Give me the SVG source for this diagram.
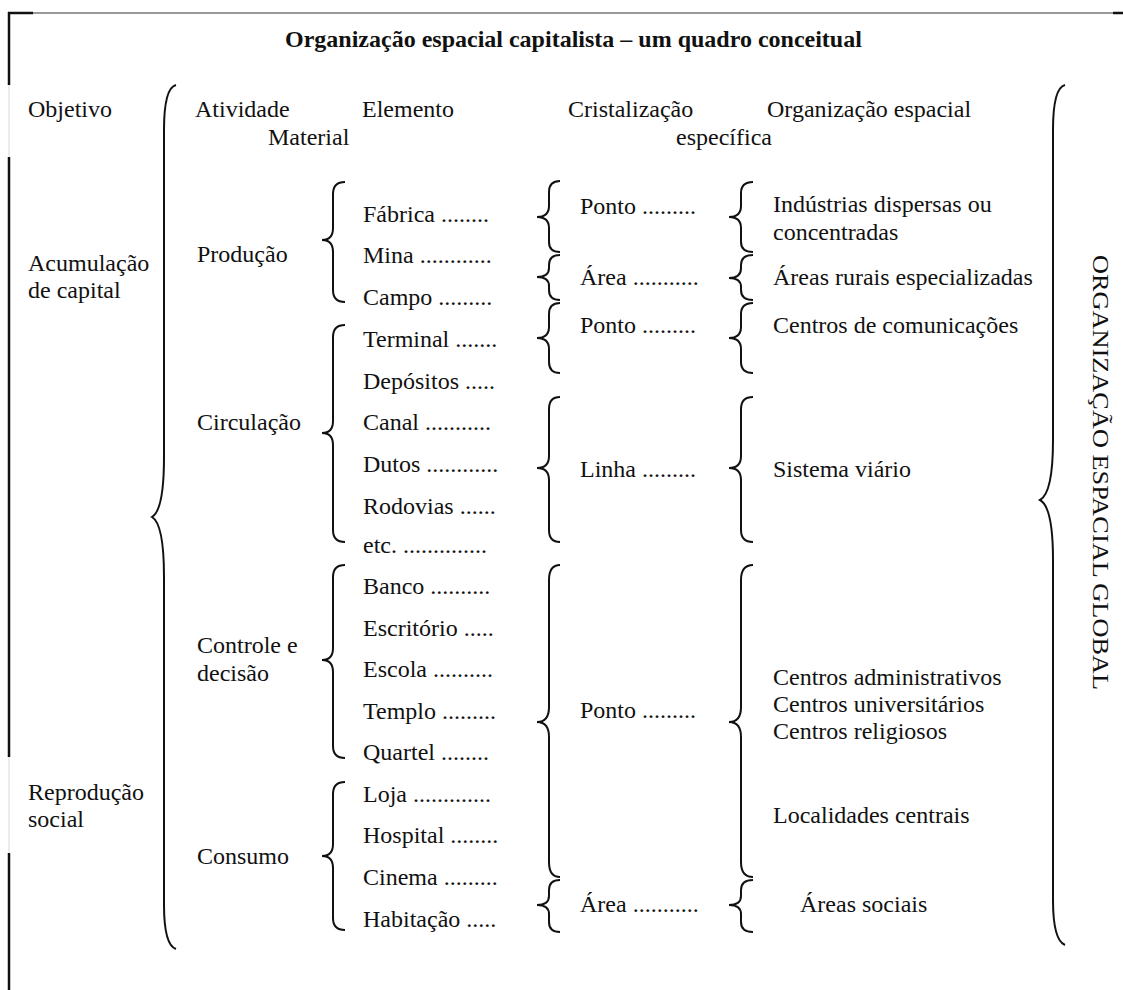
<svg xmlns="http://www.w3.org/2000/svg" width="1123" height="990" viewBox="0 0 1123 990">
<style>
text{font-family:"Liberation Serif","Times New Roman",serif;font-size:24px;fill:#111}
.title{font-weight:bold}
.br{fill:none;stroke:#111;stroke-width:2}
.frame{stroke:#111;stroke-width:2.5}
.frame-light{stroke:#e6e6e6;stroke-width:1.5}
</style>
<rect width="1123" height="990" fill="#fff"/>
<g id="frame">
<line x1="8" y1="13" x2="1113" y2="13" stroke="#777" stroke-width="1.5"/>
<line class="frame" x1="8" y1="13" x2="33" y2="13"/>
<line class="frame" x1="1113" y1="13" x2="1123" y2="13"/>
<line class="frame" x1="9" y1="12" x2="9" y2="85"/>
<line class="frame-light" x1="9" y1="85" x2="9" y2="157"/>
<line class="frame" x1="9" y1="157" x2="9" y2="757"/>
<line class="frame-light" x1="9" y1="757" x2="9" y2="853"/>
<line class="frame" x1="9" y1="853" x2="9" y2="990"/>
</g>
<g id="title"><text class="title" x="285" y="47">Organização espacial capitalista – um quadro conceitual</text></g>
<g id="headers">
<text x="28" y="117">Objetivo</text>
<text x="195" y="117">Atividade</text>
<text x="362" y="117">Elemento</text>
<text x="268" y="145">Material</text>
<text x="568" y="117">Cristalização</text>
<text x="676" y="145">específica</text>
<text x="767" y="117">Organização espacial</text>
</g>
<g id="objetivos">
<text x="28" y="271">Acumulação</text>
<text x="28" y="298">de capital</text>
<text x="28" y="800">Reprodução</text>
<text x="28" y="827">social</text>
</g>
<g id="atividades">
<text x="197" y="262">Produção</text>
<text x="197" y="430">Circulação</text>
<text x="197" y="653">Controle e</text>
<text x="197" y="681">decisão</text>
<text x="197" y="864">Consumo</text>
</g>
<g id="elementos">
<text x="363" y="222">Fábrica ........</text>
<text x="363" y="263">Mina ............</text>
<text x="363" y="305">Campo .........</text>
<text x="363" y="347">Terminal .......</text>
<text x="363" y="389">Depósitos .....</text>
<text x="363" y="430">Canal ...........</text>
<text x="363" y="472">Dutos ............</text>
<text x="363" y="514">Rodovias ......</text>
<text x="363" y="553">etc. ..............</text>
<text x="363" y="594">Banco ..........</text>
<text x="363" y="636">Escritório .....</text>
<text x="363" y="677">Escola ..........</text>
<text x="363" y="719">Templo .........</text>
<text x="363" y="760">Quartel ........</text>
<text x="363" y="802">Loja .............</text>
<text x="363" y="843">Hospital ........</text>
<text x="363" y="885">Cinema .........</text>
<text x="363" y="927">Habitação .....</text>
</g>
<g id="cristalizacao">
<text x="580" y="214">Ponto .........</text>
<text x="580" y="285">Área ...........</text>
<text x="580" y="333">Ponto .........</text>
<text x="580" y="477">Linha .........</text>
<text x="580" y="718">Ponto .........</text>
<text x="580" y="912">Área ...........</text>
</g>
<g id="organizacao">
<text x="773" y="212">Indústrias dispersas ou</text>
<text x="773" y="240">concentradas</text>
<text x="773" y="285">Áreas rurais especializadas</text>
<text x="773" y="333">Centros de comunicações</text>
<text x="773" y="477">Sistema viário</text>
<text x="773" y="685">Centros administrativos</text>
<text x="773" y="712">Centros universitários</text>
<text x="773" y="739">Centros religiosos</text>
<text x="773" y="823">Localidades centrais</text>
<text x="800" y="912">Áreas sociais</text>
</g>
<g id="global">
<text transform="translate(1093,255) rotate(90)" textLength="435" lengthAdjust="spacingAndGlyphs">ORGANIZAÇÃO ESPACIAL GLOBAL</text>
</g>
<g id="braces">
<path class="br" d="M176 85 Q164 88 164 130 V457 Q164 510 152 517 Q164 524 164 577 V905 Q164 945 176 949"/>
<path class="br" d="M1065 85 Q1053 88 1053 130 V440 Q1053 493 1040 500 Q1053 507 1053 560 V900 Q1053 940 1065 945"/>
<path class="br" d="M345 182 Q333 182 333 194 V228 Q333 240 322 240 Q333 240 333 252 V290 Q333 302 345 302"/>
<path class="br" d="M345 325 Q333 325 333 337 V421 Q333 433 322 433 Q333 433 333 445 V530 Q333 542 345 542"/>
<path class="br" d="M345 565 Q333 565 333 577 V648 Q333 660 322 660 Q333 660 333 672 V746 Q333 758 345 758"/>
<path class="br" d="M345 782 Q333 782 333 794 V844 Q333 856 322 856 Q333 856 333 868 V918 Q333 930 345 930"/>
<path class="br" d="M560 181 Q549 181 549 192 V206 Q549 217 537 217 Q549 217 549 228 V242 Q549 252 560 252"/>
<path class="br" d="M560 255 Q549 255 549 265 V268 Q549 277 537 277 Q549 277 549 286 V290 Q549 300 560 300"/>
<path class="br" d="M560 303 Q549 303 549 314 V327 Q549 338 537 338 Q549 338 549 349 V362 Q549 373 560 373"/>
<path class="br" d="M560 397 Q549 397 549 409 V456 Q549 468 537 468 Q549 468 549 480 V530 Q549 542 560 542"/>
<path class="br" d="M560 565 Q549 565 549 580 V707 Q549 722 537 722 Q549 722 549 737 V862 Q549 877 560 877"/>
<path class="br" d="M560 880 Q549 880 549 890 V896 Q549 905 537 905 Q549 905 549 914 V922 Q549 932 560 932"/>
<path class="br" d="M753 182 Q741 182 741 193 V206 Q741 217 729 217 Q741 217 741 228 V242 Q741 252 753 252"/>
<path class="br" d="M753 255 Q741 255 741 265 V268 Q741 278 729 278 Q741 278 741 287 V290 Q741 300 753 300"/>
<path class="br" d="M753 303 Q741 303 741 314 V327 Q741 338 729 338 Q741 338 741 349 V362 Q741 373 753 373"/>
<path class="br" d="M753 397 Q741 397 741 409 V456 Q741 468 729 468 Q741 468 741 480 V530 Q741 542 753 542"/>
<path class="br" d="M753 565 Q741 565 741 580 V707 Q741 722 729 722 Q741 722 741 737 V862 Q741 877 753 877"/>
<path class="br" d="M753 880 Q741 880 741 890 V896 Q741 905 729 905 Q741 905 741 914 V922 Q741 932 753 932"/>
</g>
</svg>
